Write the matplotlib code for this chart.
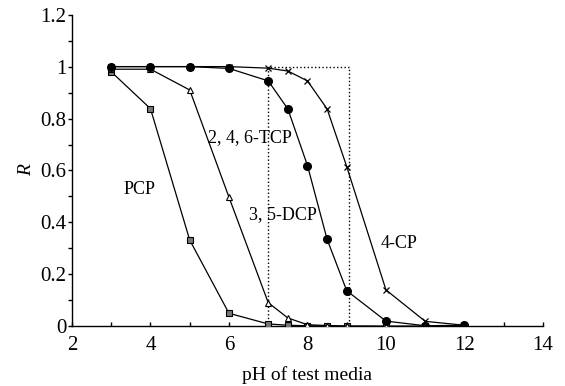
import matplotlib
matplotlib.use("Agg")
import matplotlib.pyplot as plt
from matplotlib.ticker import MultipleLocator

plt.rcParams.update({
    "font.family": "Liberation Serif",
    "font.size": 13,
    "axes.linewidth": 1.0,
})

# pH values shared by all series
ph = [3, 4, 5, 6, 7, 7.5, 8, 8.5, 9, 10, 11, 12]

# R values
pcp = [0.98, 0.838, 0.332, 0.05, 0.009, 0.004, 0.002, 0.001, 0.0, 0.0, 0.0, 0.0]
tcp = [0.99, 0.99, 0.91, 0.497, 0.091, 0.032, 0.006, 0.003, 0.001, 0.0, 0.0, 0.0]
dcp = [1.0, 1.0, 1.0, 0.993, 0.945, 0.837, 0.619, 0.335, 0.137, 0.02, 0.002, 0.004]
cp4 = [1.0, 1.0, 1.0, 1.0, 0.994, 0.983, 0.945, 0.837, 0.615, 0.14, 0.019, 0.004]

labels = ["PCP", "2, 4, 6-TCP", "3, 5-DCP", "4-CP"]
label_pos = [(3.73, 0.525), (6.53, 0.725), (7.38, 0.43), (10.33, 0.32)]

# dotted reference box
box_x = [7, 7, 9.05, 9.05]
box_y = [0, 1.0, 1.0, 0]

fig = plt.figure(figsize=(5.65, 3.86), dpi=100)
ax = fig.add_axes([0.1274, 0.1547, 0.8336, 0.8073])

ax.plot(box_x, box_y, color="black", linestyle=":", linewidth=1.0, zorder=1)

ax.plot(ph, pcp, color="black", linewidth=0.9, marker="s", markersize=4,
        markerfacecolor="#777777", markeredgecolor="black", markeredgewidth=0.8, zorder=3)
ax.plot(ph, tcp, color="black", linewidth=0.9, marker="^", markersize=4.5,
        markerfacecolor="white", markeredgecolor="black", markeredgewidth=0.8, zorder=3)
ax.plot(ph, dcp, color="black", linewidth=0.9, marker="o", markersize=5.5,
        markerfacecolor="black", markeredgecolor="black", zorder=3)
ax.plot(ph, cp4, color="black", linewidth=0.9, marker="x", markersize=5,
        markeredgewidth=0.9, zorder=3)

for text, (x, y) in zip(labels, label_pos):
    ax.text(x, y, text, ha="center", va="center", fontsize=13)

ax.set_xlim(2, 14)
ax.set_ylim(0, 1.2)
ax.xaxis.set_major_locator(MultipleLocator(2))
ax.xaxis.set_minor_locator(MultipleLocator(1))
ax.yaxis.set_major_locator(MultipleLocator(0.2))
ax.yaxis.set_minor_locator(MultipleLocator(0.1))
ax.yaxis.set_major_formatter(plt.FuncFormatter(lambda v, p: f"{v:g}"))

ax.tick_params(axis="x", which="both", direction="in", length=3, width=1.0,
               pad=7, labelsize=15)
ax.tick_params(axis="y", which="both", direction="out", length=3, width=1.0,
               pad=1, labelsize=15)

ax.spines["top"].set_visible(False)
ax.spines["right"].set_visible(False)

ax.set_xlabel("pH of test media", fontsize=14, labelpad=8)
ax.set_ylabel("R", fontsize=14, style="italic", labelpad=4)

fig.savefig("out.png", dpi=100)
